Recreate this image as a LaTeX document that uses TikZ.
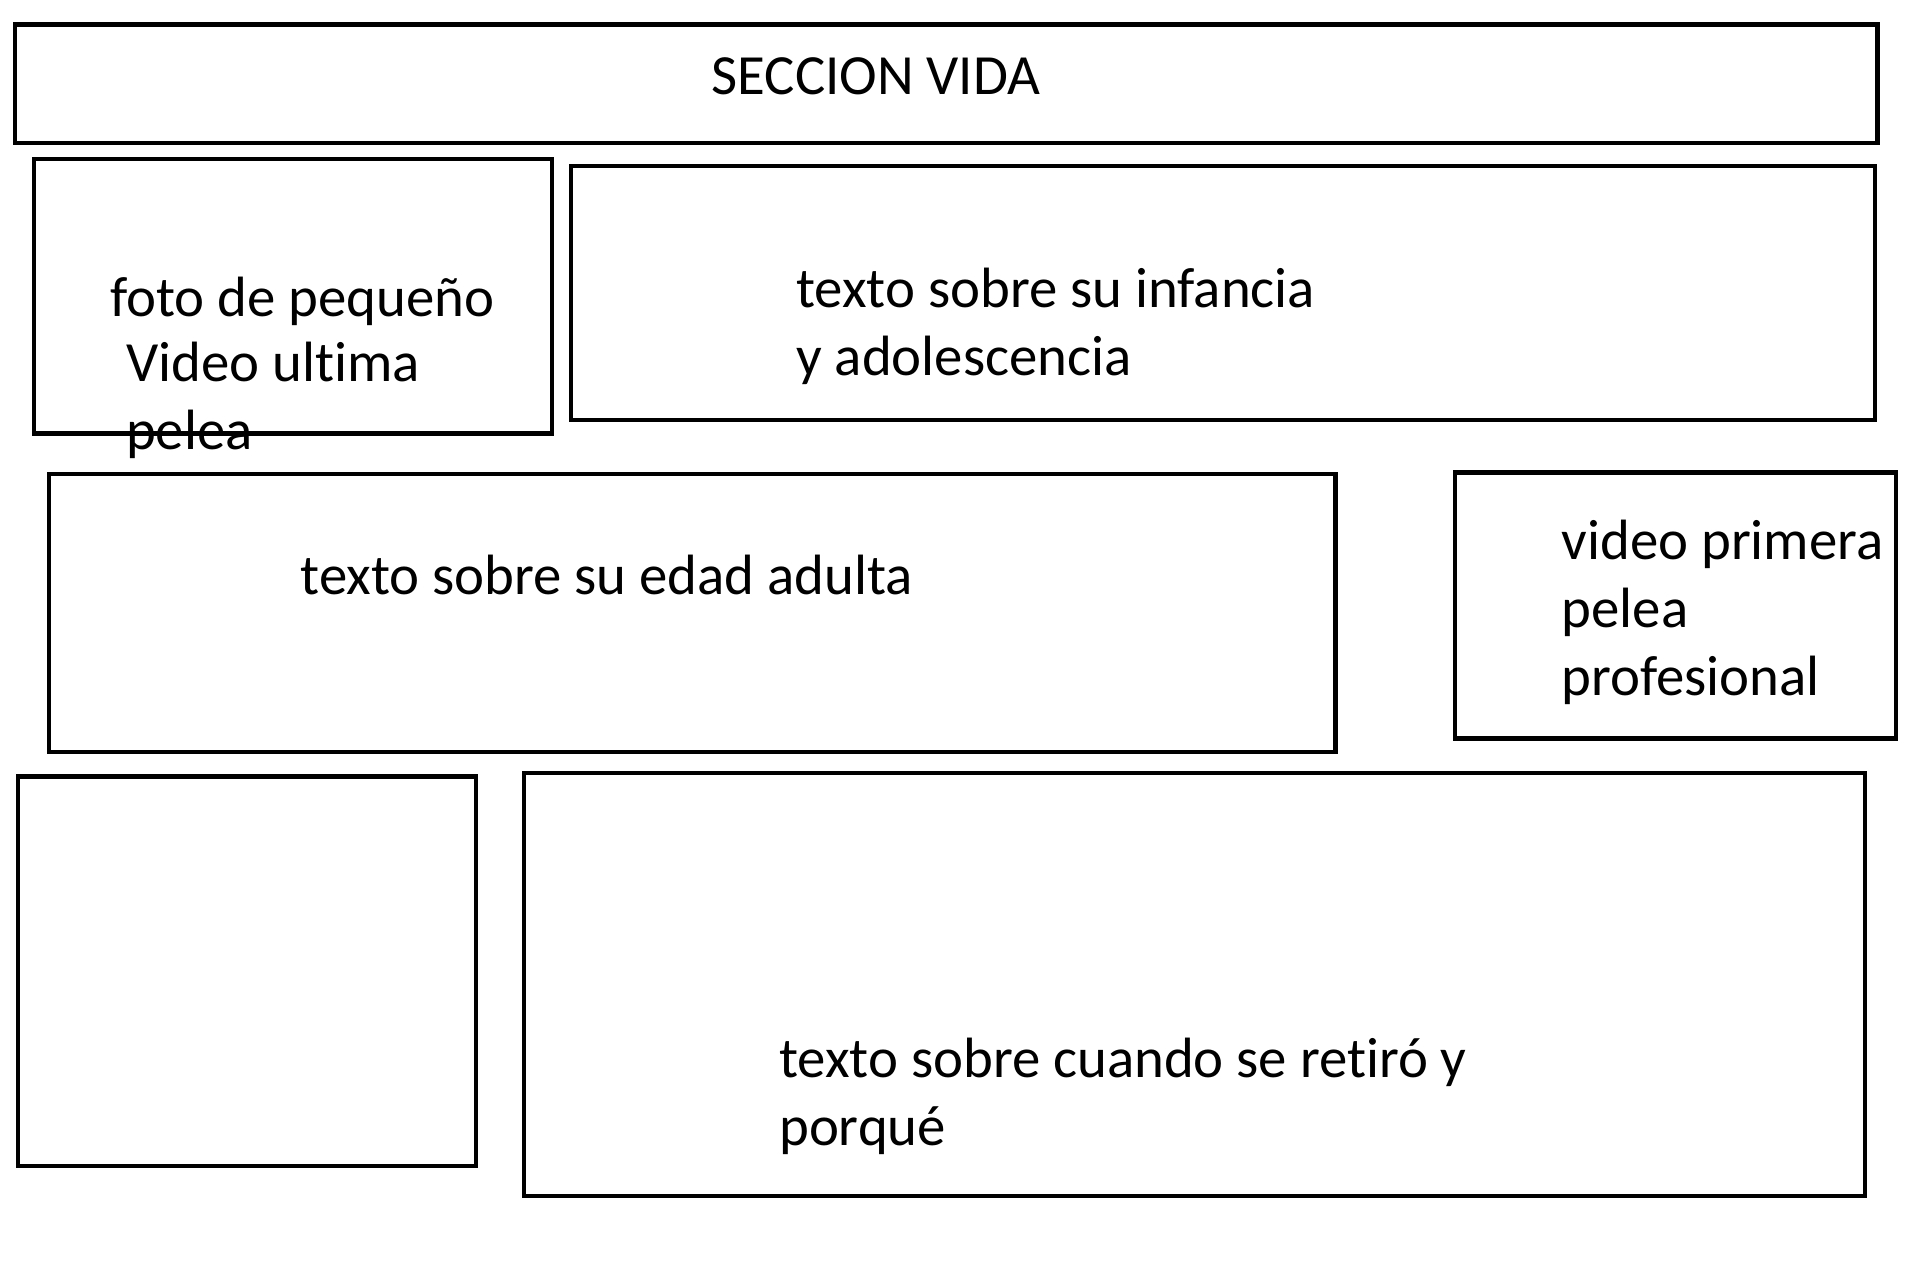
\documentclass[tikz,border=0pt]{standalone}
\usepackage{fontspec}
\setmainfont{Carlito}[Ligatures=NoCommon]
\begin{document}
\begin{tikzpicture}[x=0.5pt, y=-0.5pt,
    caja/.style={draw, line width=2.1pt},
    texto/.style={anchor=base west, inner sep=0pt, font=\fontsize{28.4}{34}\selectfont}]
    \useasboundingbox (0,0) rectangle (1914,1285);

    % recuadros de la maqueta
    \draw[caja] (14.6,24.4) rectangle (1877.4,142.8);   % cabecera
    \draw[caja] (34.2,158.7) rectangle (551.8,433.4);   % foto de pequeño
    \draw[caja] (571.3,166) rectangle (1875,420);       % infancia
    \draw[caja] (48.8,473.6) rectangle (1335.5,752);    % edad adulta
    \draw[caja] (1455,472.4) rectangle (1895.7,738.5);  % primera pelea
    \draw[caja] (18.3,776.4) rectangle (476,1165.8);    % vacio
    \draw[caja] (523.7,772.7) rectangle (1865.3,1196.3);% retiro

    % textos
    \node[texto, anchor=base] (titulo) at (876,94) {SECCION VIDA};

    \node[texto] (foto) at (110,316) {foto de pequeño};
    \node[texto] (video1) at (125.7,381) {Video ultima};
    \node[texto] (video2) at (125.7,449) {pelea};

    \node[texto] (infancia1) at (795.9,307) {texto sobre su infancia};
    \node[texto] (infancia2) at (795.9,375) {y adolescencia};

    \node[texto] (adulta) at (300.3,594) {texto sobre su edad adulta};

    \node[texto] (primera1) at (1561.3,559) {video primera};
    \node[texto] (primera2) at (1561.3,627) {pelea};
    \node[texto] (primera3) at (1561.3,695) {profesional};

    \node[texto] (retiro1) at (778.8,1077) {texto sobre cuando se retiró y};
    \node[texto] (retiro2) at (778.8,1145) {porqué};
\end{tikzpicture}
\end{document}
